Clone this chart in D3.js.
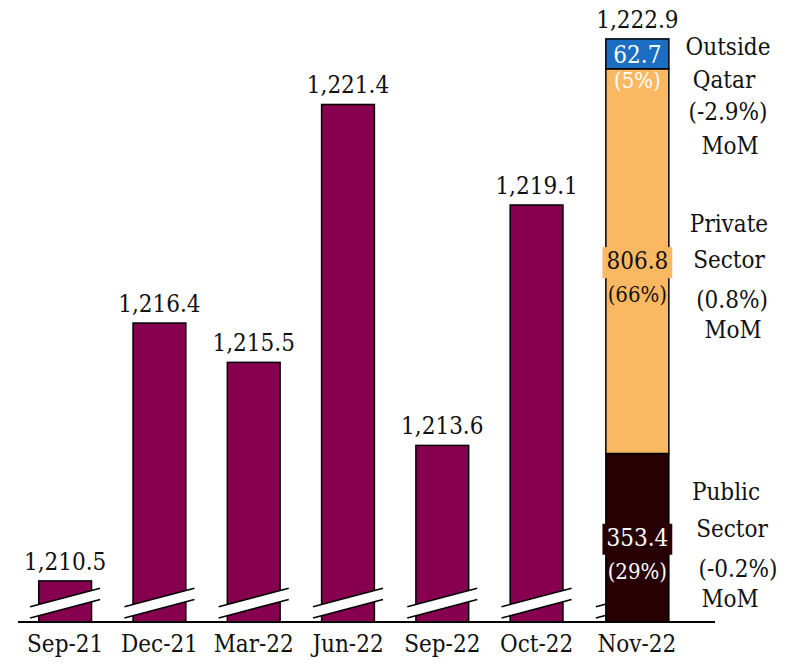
<!DOCTYPE html>
<html>
<head>
<meta charset="utf-8">
<script src="https://cdn.jsdelivr.net/npm/d3@7"></script>
<style>
  body { margin: 0; background: #fff; }
  text { font-family: "DejaVu Serif Condensed", "DejaVu Serif", serif; font-stretch: semi-condensed; fill: #111; }
</style>
</head>
<body>
<script>
"use strict";

// Total credit (QR bn), broken value axis
const months = ["Sep-21", "Dec-21", "Mar-22", "Jun-22", "Sep-22", "Oct-22", "Nov-22"];
const totals = [1210.5, 1216.4, 1215.5, 1221.4, 1213.6, 1219.1, 1222.9];

// Nov-22 split, bottom to top
const segmentNames = [["Public", "Sector"], ["Private", "Sector"], ["Outside", "Qatar"]];
const segmentValues = [353.4, 806.8, 62.7];
const segmentMoM = ["(-0.2%)", "(0.8%)", "(-2.9%)"];
const segmentColors = ["#260002", "#fbb862", "#1b6ec2"];
const segmentTextColors = ["#fff", "#111", "#fff"];

const width = 796, height = 665;
const baseY = 622;
const barColor = "#86004f";
const fontSize = "24px";

const svg = d3.select("body").append("svg")
  .attr("width", width)
  .attr("height", height);

const x = d3.scaleBand()
  .domain(months)
  .range([18, 678])
  .paddingInner(0.44)
  .paddingOuter(0.22);

const y = d3.scaleLinear()
  .domain([1209.56, 1223.79])
  .range([baseY, 0]);

const fmt = d3.format(",.1f");
const lastMonth = months[months.length - 1];
const plain = months.slice(0, -1).map((m, i) => ({ month: m, value: totals[i] }));

// plain bars
svg.selectAll(".bar")
  .data(plain)
  .enter()
  .append("rect")
    .attr("class", "bar")
    .attr("x", d => x(d.month))
    .attr("y", d => y(d.value))
    .attr("width", x.bandwidth())
    .attr("height", d => baseY - y(d.value))
    .attr("fill", barColor)
    .attr("stroke", "#000")
    .attr("stroke-width", 1.5);

// axis break marks (drawn for every bar, the last one sits behind the stack)
const breaks = svg.append("g");
months.forEach(m => {
  const cx = x(m) + x.bandwidth() / 2;
  const x0 = cx - 35, x1 = cx + 35;
  const g = breaks.append("g");
  g.append("polygon")
    .attr("points", [[x0, 606.7], [x1, 588.3], [x1, 599.5], [x0, 618]].join(" "))
    .attr("fill", "#fff");
  g.append("line")
    .attr("x1", x0).attr("y1", 606.7).attr("x2", x1).attr("y2", 588.3)
    .attr("stroke", "#000").attr("stroke-width", 1.6);
  g.append("line")
    .attr("x1", x0).attr("y1", 618).attr("x2", x1).attr("y2", 599.5)
    .attr("stroke", "#000").attr("stroke-width", 1.6);
});

// stacked bar for the latest month, split in proportion to its total height
const total = d3.sum(segmentValues);
const stackW = 63;
const stackX = x(lastMonth) + x.bandwidth() / 2 + 6.5 - stackW / 2;
const stackCx = stackX + stackW / 2;
const stackTop = y(totals[totals.length - 1]);
const h = d3.scaleLinear().domain([0, total]).range([0, baseY - stackTop]);

let acc = 0;
const segs = segmentValues.map((v, i) => {
  const s = { i, v, y0: baseY - h(acc + v), y1: baseY - h(acc) };
  acc += v;
  return s;
});

svg.selectAll(".seg")
  .data(segs)
  .enter()
  .append("rect")
    .attr("class", "seg")
    .attr("x", stackX)
    .attr("y", d => d.y0)
    .attr("width", stackW)
    .attr("height", d => d.y1 - d.y0)
    .attr("fill", d => segmentColors[d.i])
    .attr("stroke", "#000")
    .attr("stroke-width", 1.5);

// segment labels
segs.forEach(s => {
  const mid = (s.y0 + s.y1) / 2;
  const valY = s.i === 2 ? s.y0 + 24 : mid + 8;
  const pctY = s.i === 2 ? valY + 25 : valY + 33;
  const g = svg.append("g");
  const t = g.append("text")
    .attr("x", stackCx)
    .attr("y", valY)
    .attr("text-anchor", "middle")
    .style("font-size", fontSize)
    .style("fill", segmentTextColors[s.i])
    .text(s.v.toFixed(1));
  if (s.i < 2) {
    const bb = t.node().getBBox();
    g.insert("rect", "text")
      .attr("x", bb.x - 4)
      .attr("y", valY - 22)
      .attr("width", bb.width + 8)
      .attr("height", 31)
      .attr("fill", segmentColors[s.i]);
  }
  svg.append("text")
    .attr("x", stackCx)
    .attr("y", pctY)
    .attr("text-anchor", "middle")
    .style("font-size", "22px")
    .style("fill", s.i === 1 ? "#111" : "#fff")
    .text(`(${Math.round(s.v / total * 100)}%)`);
});

// right-hand notes, lines: name, name, MoM change, "MoM"
const noteBase = [500, 232, 55];
const noteShift = [[-2, 4, 10, 2], [1, 1, 4, 5], [0, -4, 0, 2]];
const noteGap = [[0, 37, 77, 107], [0, 36, 76, 106], [0, 33, 65, 99]];
segmentNames.forEach((names, i) => {
  const lines = [names[0], names[1], segmentMoM[i], "MoM"];
  lines.forEach((txt, j) => {
    svg.append("text")
      .attr("x", 728 + noteShift[i][j])
      .attr("y", noteBase[i] + noteGap[i][j])
      .attr("text-anchor", "middle")
      .style("font-size", fontSize)
      .text(txt);
  });
});

// total labels
svg.selectAll(".total")
  .data(months.map((m, i) => ({ month: m, value: totals[i] })))
  .enter()
  .append("text")
    .attr("class", "total")
    .attr("x", d => d.month === lastMonth ? stackCx : x(d.month) + x.bandwidth() / 2)
    .attr("y", d => y(d.value) - 11)
    .attr("text-anchor", "middle")
    .style("font-size", fontSize)
    .text(d => fmt(d.value));

// category axis
const axis = svg.append("g")
  .attr("transform", `translate(0,${baseY})`)
  .call(d3.axisBottom(x).tickSize(0).tickPadding(13));
axis.select(".domain").remove();
axis.selectAll("text")
  .style("font-family", null)
  .style("font-size", fontSize)
  .attr("fill", null)
  .attr("dx", d => d === lastMonth ? 6 : 0);

svg.append("line")
  .attr("x1", 18).attr("x2", 715)
  .attr("y1", baseY).attr("y2", baseY)
  .attr("stroke", "#000")
  .attr("stroke-width", 2);
</script>
</body>
</html>
